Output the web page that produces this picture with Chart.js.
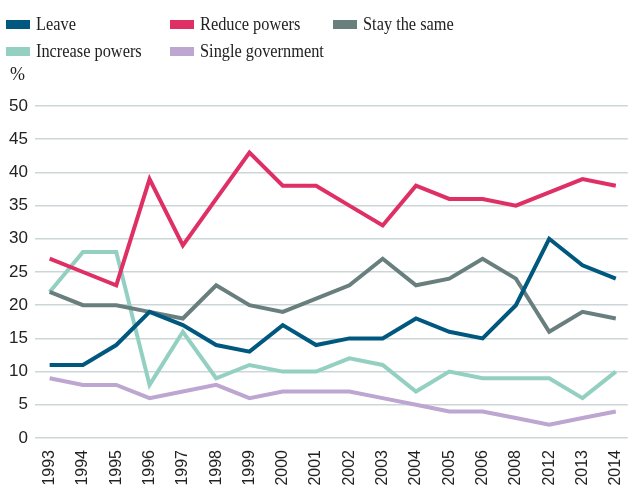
<!DOCTYPE html>
<html>
<head>
<meta charset="utf-8">
<script src="https://cdn.jsdelivr.net/npm/chart.js@4"></script>
<style>
  body { margin: 0; background: #fff; }
  .wrap { position: relative; width: 639px; height: 489px; }
  canvas { position: absolute; left: 0; top: 0; }
  .item { position: absolute; font-family: "Liberation Serif", serif; font-size: 19px; color: #222; line-height: 1; white-space: nowrap; transform: scaleX(0.86); transform-origin: left top; }
  .box { position: absolute; width: 24px; height: 9px; }
  .unit { position: absolute; left: 10px; top: 64px; font-family: "Liberation Serif", serif; font-size: 18px; color: #222; }
</style>
</head>
<body>
<div class="wrap">
  <canvas id="chart" width="639" height="489"></canvas>
  <div id="legend"></div>
  <div class="unit">%</div>
</div>
<script>
const years = ["1993", "1994", "1995", "1996", "1997", "1998", "1999", "2000", "2001",
  "2002", "2003", "2004", "2005", "2006", "2008", "2012", "2013", "2014"];

const leave = [11, 11, 14, 19, 17, 14, 13, 17, 14, 15, 15, 18, 16, 15, 20, 30, 26, 24];
const reducePowers = [27, 25, 23, 39, 29, 36, 43, 38, 38, 35, 32, 38, 36, 36, 35, 37, 39, 38];
const stayTheSame = [22, 20, 20, 19, 18, 23, 20, 19, 21, 23, 27, 23, 24, 27, 24, 16, 19, 18];
const increasePowers = [22, 28, 28, 8, 16, 9, 11, 10, 10, 12, 11, 7, 10, 9, 9, 9, 6, 10];
const singleGovernment = [9, 8, 8, 6, 7, 8, 6, 7, 7, 7, 6, 5, 4, 4, 3, 2, 3, 4];

const yTicks = [0, 5, 10, 15, 20, 25, 30, 35, 40, 45, 50];

const series = [
  { label: "Leave", data: leave, color: "#00587f" },
  { label: "Reduce powers", data: reducePowers, color: "#df3066" },
  { label: "Stay the same", data: stayTheSame, color: "#687f7d" },
  { label: "Increase powers", data: increasePowers, color: "#93d0c1" },
  { label: "Single government", data: singleGovernment, color: "#bda6cf" },
];

// legend laid out in three fixed columns like the original
const legendPos = [[6, 20], [170, 20], [333, 20], [6, 47], [170, 47]];
const legend = document.getElementById("legend");
series.forEach((s, i) => {
  const [x, y] = legendPos[i];
  const box = document.createElement("div");
  box.className = "box";
  box.style.left = x + "px";
  box.style.top = y + "px";
  box.style.background = s.color;
  legend.appendChild(box);
  const t = document.createElement("div");
  t.className = "item";
  t.style.left = (x + 30) + "px";
  t.style.top = (y - 6) + "px";
  t.textContent = s.label;
  legend.appendChild(t);
});

const ctx = document.getElementById("chart").getContext("2d");
new Chart(ctx, {
  type: "line",
  data: {
    datasets: series.map((s) => ({
      label: s.label,
      data: s.data.map((v, i) => ({ x: i, y: v })),
      borderColor: s.color,
      backgroundColor: s.color,
      borderWidth: 4,
      pointRadius: 0,
      tension: 0,
    })),
  },
  options: {
    responsive: false,
    animation: false,
    layout: { padding: { top: 106, right: 0, left: 0, bottom: 0 } },
    plugins: { legend: { display: false }, tooltip: { enabled: false } },
    scales: {
      x: {
        type: "linear",
        min: -0.44,
        max: 17.36,
        afterBuildTicks: (axis) => {
          axis.ticks = years.map((y, i) => ({ value: i }));
        },
        afterFit: (axis) => { axis.height = 51; },
        ticks: {
          autoSkip: false,
          includeBounds: false,
          minRotation: 90,
          maxRotation: 90,
          padding: 4,
          color: "#222",
          font: { family: "Liberation Sans", size: 16 },
          callback: (value) => years[value],
        },
        grid: { display: false },
        border: { display: false },
      },
      y: {
        min: 0,
        max: 50,
        afterBuildTicks: (axis) => {
          axis.ticks = yTicks.map((v) => ({ value: v }));
        },
        afterFit: (axis) => { axis.width = 35; },
        ticks: {
          padding: 7,
          color: "#222",
          font: { family: "Liberation Sans", size: 17 },
        },
        grid: { color: "#ccd6d8", lineWidth: 1.5, drawTicks: false },
        border: { display: false },
      },
    },
  },
});
</script>
</body>
</html>
